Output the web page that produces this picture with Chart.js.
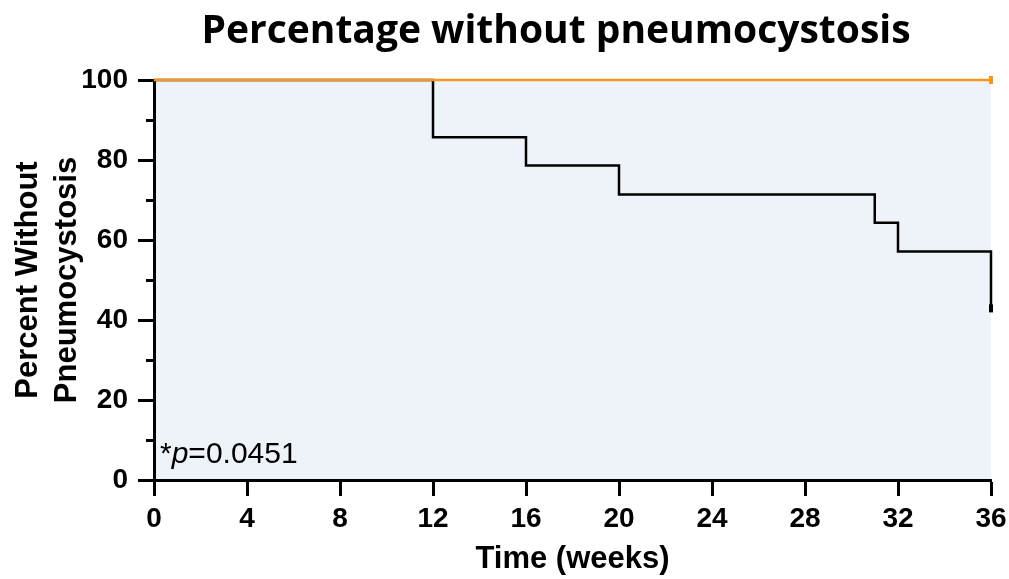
<!DOCTYPE html>
<html>
<head>
<meta charset="utf-8">
<script src="https://cdn.jsdelivr.net/npm/chart.js@4.4.1/dist/chart.umd.min.js"></script>
<style>
  html, body { margin: 0; padding: 0; background: #ffffff; }
  canvas { display: block; }
</style>
</head>
<body>
<canvas id="c" width="1009" height="579"></canvas>
<script>
// ---- data ----
const titleText = 'Percentage without pneumocystosis';
const xTitle = 'Time (weeks)';
const yTitle = ['Percent Without', 'Pneumocystosis'];
const pValueLabel = '0.0451';

const controlTimes = [0, 12, 16, 20, 31, 32, 36];
const controlSurvival = [100, 85.7, 78.6, 71.4, 64.3, 57.1, 42.9];
const treatedTimes = [0, 36];
const treatedSurvival = [100, 100];

const xTickValues = [0, 4, 8, 12, 16, 20, 24, 28, 32, 36];
const yTickValues = [0, 20, 40, 60, 80, 100];
const yMinorTicks = [10, 30, 50, 70, 90];

const toPoints = (xs, ys) => xs.map((x, i) => ({ x: x, y: ys[i] }));

const FONT = '"Liberation Sans", Arial, sans-serif';

const bgPlugin = {
  id: 'plotBg',
  beforeDraw(chart) {
    const { ctx, chartArea: a } = chart;
    ctx.save();
    ctx.fillStyle = '#EEF3FA';
    ctx.fillRect(a.left, a.top, a.right - a.left, a.bottom - a.top);
    ctx.restore();
  }
};

const extrasPlugin = {
  id: 'extras',
  afterDraw(chart) {
    const { ctx, chartArea: a, scales } = chart;
    const y = scales.y;
    ctx.save();
    // minor y ticks
    ctx.strokeStyle = '#000';
    ctx.lineWidth = 3;
    yMinorTicks.forEach(v => {
      const py = Math.round(y.getPixelForValue(v)) + 0.5;
      ctx.beginPath();
      ctx.moveTo(a.left - 8, py);
      ctx.lineTo(a.left, py);
      ctx.stroke();
    });
    // title
    ctx.fillStyle = '#000';
    ctx.textAlign = 'center';
    ctx.textBaseline = 'alphabetic';
    ctx.font = 'bold 39px "Open Sans", Lato, sans-serif';
    ctx.fillText(titleText, 556, 43);
    // p-value annotation
    ctx.textAlign = 'left';
    let px = a.left + 6;
    const py = a.bottom - 17;
    ctx.font = '30px ' + FONT;
    ctx.fillText('*', px, py);
    px += ctx.measureText('*').width;
    ctx.font = 'italic 30px ' + FONT;
    ctx.fillText('p', px, py);
    px += ctx.measureText('p').width;
    ctx.font = '30px ' + FONT;
    ctx.fillText('=' + pValueLabel, px, py);
    ctx.restore();
  }
};

new Chart(document.getElementById('c'), {
  type: 'line',
  data: {
    datasets: [
      {
        label: 'Control',
        data: toPoints(controlTimes, controlSurvival),
        borderColor: '#000000',
        backgroundColor: '#000000',
        borderWidth: 2.5,
        stepped: 'before',
        fill: false,
        clip: false,
        pointStyle: 'line',
        pointRotation: 90,
        pointRadius: ctx => (ctx.dataIndex === controlTimes.length - 1 ? 4 : 0),
        pointBorderWidth: 4,
        pointBorderColor: '#000000',
        order: 2
      },
      {
        label: 'Treated',
        data: toPoints(treatedTimes, treatedSurvival),
        borderColor: '#F7961C',
        backgroundColor: '#F7961C',
        borderWidth: 2.5,
        stepped: 'before',
        fill: false,
        clip: false,
        pointStyle: 'line',
        pointRotation: 90,
        pointRadius: ctx => (ctx.dataIndex === treatedTimes.length - 1 ? 4 : 0),
        pointBorderWidth: 4,
        pointBorderColor: '#F7961C',
        order: 1
      }
    ]
  },
  options: {
    responsive: false,
    animation: false,
    layout: { padding: { top: 80, right: 18, left: 0, bottom: 0 } },
    plugins: {
      legend: { display: false },
      title: { display: false },
      tooltip: { enabled: false }
    },
    scales: {
      x: {
        type: 'linear',
        min: 0,
        max: 36,
        afterBuildTicks: s => { s.ticks = xTickValues.map(v => ({ value: v })); },
        afterFit: s => { s.height = 99; s.paddingRight = 0; s.paddingLeft = 0; },
        ticks: {
          color: '#000',
          padding: 6,
          maxRotation: 0,
          font: { family: FONT, size: 28, weight: 'bold' }
        },
        grid: {
          drawOnChartArea: false,
          drawTicks: true,
          tickLength: 16,
          tickWidth: 3,
          tickColor: '#000'
        },
        border: { display: true, color: '#000', width: 3 },
        title: {
          display: true,
          text: xTitle,
          color: '#000',
          font: { family: FONT, size: 31, weight: 'bold', lineHeight: 1.2 },
          padding: { top: 0, bottom: 1 }
        }
      },
      y: {
        type: 'linear',
        min: 0,
        max: 100,
        afterBuildTicks: s => { s.ticks = yTickValues.map(v => ({ value: v })); },
        afterFit: s => { s.width = 154; },
        ticks: {
          color: '#000',
          padding: 10,
          font: { family: FONT, size: 28, weight: 'bold' }
        },
        grid: {
          drawOnChartArea: false,
          drawTicks: true,
          tickLength: 16,
          tickWidth: 3,
          tickColor: '#000'
        },
        border: { display: true, color: '#000', width: 3 },
        title: {
          display: true,
          text: yTitle,
          color: '#000',
          font: { family: FONT, size: 31, weight: 'bold', lineHeight: 1.25 },
          padding: { top: 9, bottom: 0 }
        }
      }
    }
  },
  plugins: [bgPlugin, extrasPlugin]
});
</script>
</body>
</html>
